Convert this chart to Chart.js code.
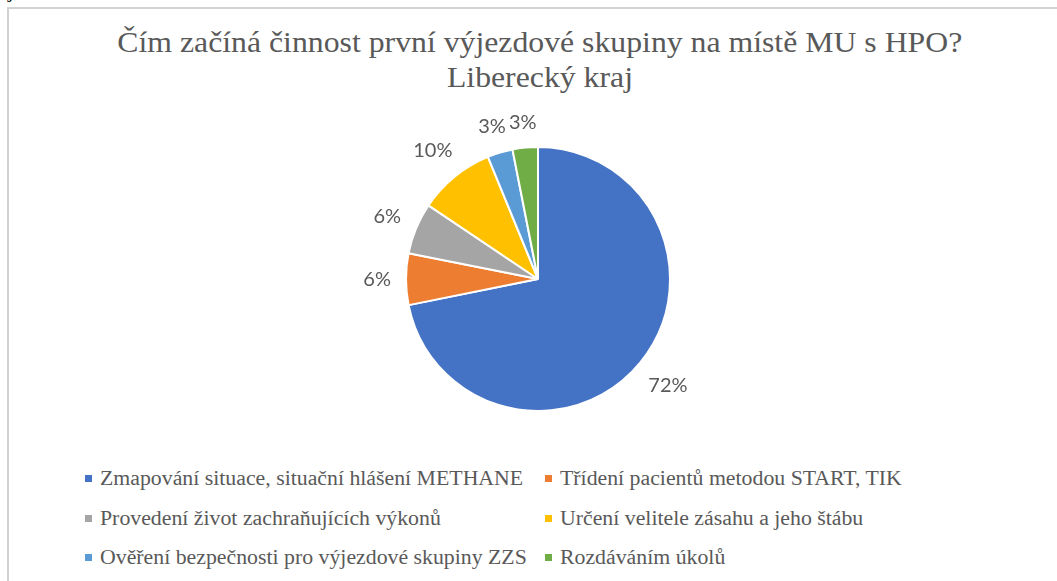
<!DOCTYPE html>
<html>
<head>
<meta charset="utf-8">
<script src="https://cdn.jsdelivr.net/npm/chart.js@4.4.1/dist/chart.umd.min.js"></script>
<style>
  html, body { margin: 0; padding: 0; background: #fff; overflow: hidden; width: 1057px; height: 581px; }
  #frame { position: absolute; left: 7px; top: 7px; width: 1200px; height: 700px; border: 2px solid #d2d2d2; box-sizing: border-box; }
  #c { position: absolute; left: 0; top: 0; }
  #frag { position: absolute; left: 8px; top: -19.6px; font-family: "Liberation Serif", "Times New Roman", serif; font-size: 21px; line-height: 21px; color: #000; }
  #title { position: absolute; left: 0; top: 25px; width: 1080px; text-align: center; font-family: "Liberation Serif", "Times New Roman", serif; font-size: 29px; line-height: 35px; color: #595959; }
  #title div { display: block; }
  #title span { display: inline-block; transform: scaleX(1.095); transform-origin: center; white-space: nowrap; }
  .lg { position: absolute; font-family: "Liberation Serif", "Times New Roman", serif; font-size: 20px; color: #595959; white-space: nowrap; line-height: 20px; }
  .lg span { display: inline-block; transform: scaleX(1.09); transform-origin: left center; }
  .lg i { position: absolute; left: -15px; top: 7px; width: 7px; height: 7px; }
</style>
</head>
<body>
<div id="frag">j</div>
<div id="frame"></div>
<div id="title"></div>
<canvas id="c" width="1076" height="460"></canvas>
<div id="legend"></div>
<script>
const titleLines = ["Čím začíná činnost první výjezdové skupiny na místě MU s HPO?", "Liberecký kraj"];
const categories = [
  "Zmapování situace, situační hlášení METHANE",
  "Třídení pacientů metodou START, TIK",
  "Provedení život zachraňujících výkonů",
  "Určení velitele zásahu a jeho štábu",
  "Ověření bezpečnosti pro výjezdové skupiny ZZS",
  "Rozdáváním úkolů"
];
const shares = [71.9, 6.3, 6.3, 9.4, 3.1, 3.1];
const percentLabels = ["72%", "6%", "6%", "10%", "3%", "3%"];
const colors = ["#4472C4", "#ED7D31", "#A5A5A5", "#FFC000", "#5B9BD5", "#70AD47"];

const titleEl = document.getElementById('title');
titleLines.forEach(t => {
  const row = document.createElement('div');
  const s = document.createElement('span');
  s.textContent = t;
  row.appendChild(s);
  titleEl.appendChild(row);
});

const labelPlugin = {
  id: 'outLabels',
  afterDatasetsDraw(chart) {
    const ctx = chart.ctx;
    const meta = chart.getDatasetMeta(0);
    ctx.save();
    ctx.font = '20px Lato, "Open Sans", sans-serif';
    ctx.fillStyle = '#595959';
    ctx.textAlign = 'center';
    ctx.textBaseline = 'middle';
    meta.data.forEach((arc, i) => {
      const p = arc.getProps(['x', 'y', 'startAngle', 'endAngle', 'outerRadius'], true);
      const mid = (p.startAngle + p.endAngle) / 2;
      const ux = Math.cos(mid), uy = Math.sin(mid);
      const txt = percentLabels[i];
      const w = ctx.measureText(txt).width, h = 18;
      const ext = Math.abs(ux) * w / 2 + Math.abs(uy) * h / 2;
      const d = p.outerRadius + 15 + ext;
      ctx.fillText(txt, p.x + ux * d, p.y + uy * d);
    });
    ctx.restore();
  }
};

new Chart(document.getElementById('c'), {
  type: 'pie',
  data: {
    labels: categories,
    datasets: [{
      data: shares,
      backgroundColor: colors,
      borderColor: '#ffffff',
      borderWidth: 2
    }]
  },
  options: {
    responsive: false,
    animation: false,
    radius: 132,
    layout: { padding: { top: 98, bottom: 0, left: 0, right: 0 } },
    plugins: {
      legend: { display: false },
      tooltip: { enabled: false },
      title: { display: false }
    }
  },
  plugins: [labelPlugin]
});

const legend = document.getElementById('legend');
const colX = [100, 560];
const rowY = [468, 508, 547];
categories.forEach((name, i) => {
  const d = document.createElement('div');
  d.className = 'lg';
  d.style.left = colX[i % 2] + 'px';
  d.style.top = rowY[Math.floor(i / 2)] + 'px';
  const m = document.createElement('i');
  m.style.background = colors[i];
  d.appendChild(m);
  const s = document.createElement('span');
  s.textContent = name;
  d.appendChild(s);
  legend.appendChild(d);
});
</script>
</body>
</html>
